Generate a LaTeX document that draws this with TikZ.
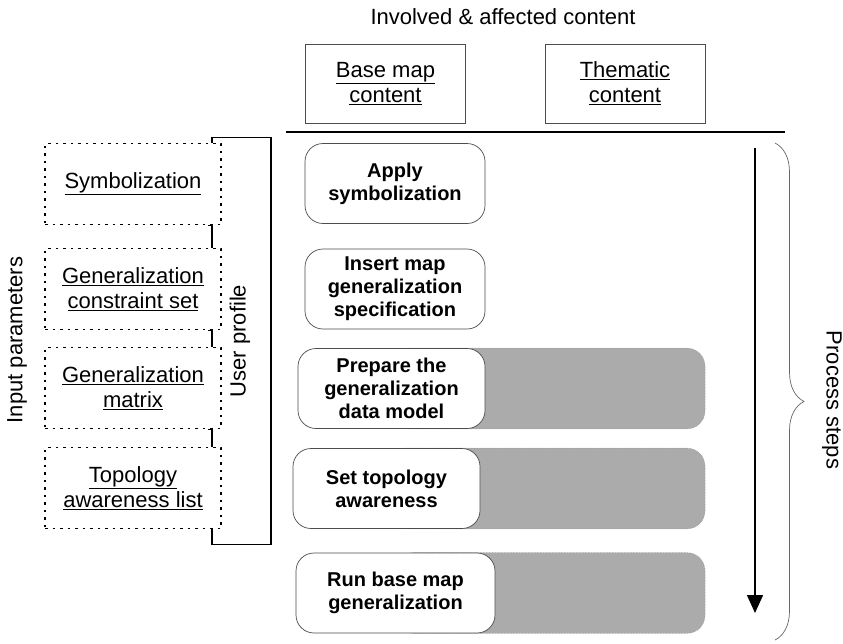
\documentclass[tikz,border=0pt]{standalone}
\usepackage{fontspec}
\setmainfont{Liberation Sans}
\usetikzlibrary{arrows.meta, positioning, decorations.pathreplacing, backgrounds}

\begin{document}
\begin{tikzpicture}[x=1pt,y=-1pt,>={Triangle[width=16pt,length=18pt]},
    every node/.style={font=\fontsize{22}{25}\selectfont, align=center, inner sep=0pt},
    content/.style={draw=black!70, line width=0.7pt, minimum width=160pt, minimum height=79pt},
    param/.style={draw, line width=1.9pt, dash pattern=on 2.5pt off 5pt, minimum width=176pt, minimum height=81pt},
    proc/.style={draw=black!70, line width=0.7pt, fill=white, rounded corners=18pt, minimum height=80pt,
      font=\fontsize{20}{23}\selectfont\bfseries},
    band/.style={fill=black!33, draw=black!45, line width=0.5pt, densely dotted, rounded corners=18pt},
    link/.style={line width=1.1pt}]
  \useasboundingbox (0,0) rectangle (843,643);
  \node (title) at (503,17) {Involved \& affected content};
  \node[content] (base) at (385.5,83.5) {\underline{Base map}\\\underline{content}};
  \node[content] (them) at (625,83.5) {\underline{Thematic}\\\underline{content}};
  \draw[line width=1.6pt] (286,132) -- (785,132);

  \node[param] (sym) at (133,184) {\underline{Symbolization}};
  \node[param] (gcs) at (133,289) {\underline{Generalization}\\\underline{constraint set}};
  \node[param] (gmx) at (133,388) {\underline{Generalization}\\\underline{matrix}};
  \node[param] (tal) at (133,488) {\underline{Topology}\\\underline{awareness list}};
  \foreach \a/\b in {sym/gcs, gcs/gmx, gmx/tal}
    \draw[link] ([xshift=-14pt]\a.south east) -| ([xshift=-10pt]\b.north east);
  \draw[link] ([xshift=-10pt]sym.north east) -- ++(0,-5) -- ++(59,0)
    |- ([xshift=-10pt,yshift=-15pt]tal.south east) -- ([xshift=-10pt]tal.south east);
  \node[rotate=90] (user) at (240,341) {User profile};
  \node[rotate=90] (input) at (17,340) {Input parameters};

  \node[proc, minimum width=180pt] (aps) at (395,183.5) {Apply\\symbolization};
  \node[proc, minimum width=180pt] (ins) at (395,289) {Insert map\\generalization\\specification};
  \node[proc, minimum width=187pt] (prep) at (391.5,388.5) {Prepare the\\generalization\\data model};
  \node[proc, minimum width=187pt] (topo) at (386.5,488.5) {Set topology\\awareness};
  \node[proc, minimum width=199pt] (run) at (395.5,593) {Run base map\\generalization};
  \coordinate (bandend) at (705,0);
  \begin{scope}[on background layer]
    \foreach \s in {prep, topo, run}
      \draw[band] (\s.north) rectangle (\s.south -| bandend);
  \end{scope}

  \coordinate (s_top) at (755,148);
  \coordinate (s_bot) at (755,613);
  \draw[->, line width=1.5pt] (s_top) -- (s_bot);
  \coordinate (br_top) at (775,143);
  \coordinate (br_bot) at (775,640);
  \draw[black!60, line width=0.7pt, decorate, decoration={brace, amplitude=29pt, aspect=0.52}]
    (br_top) -- (br_bot);
  \node[rotate=-90] (steps) at (832,400) {Process steps};
\end{tikzpicture}
\end{document}
